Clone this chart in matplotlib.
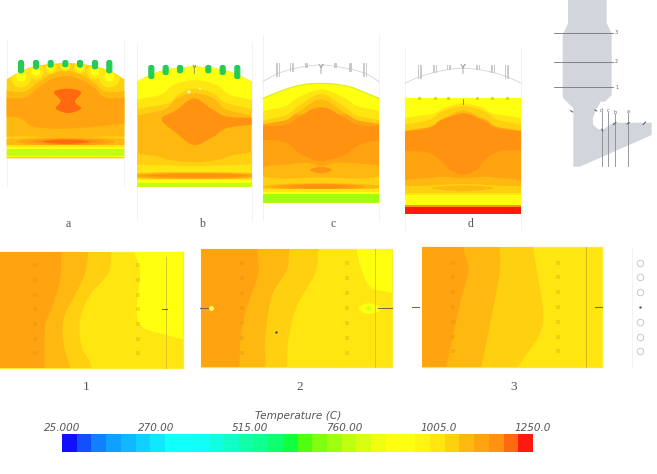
import numpy as np
import matplotlib
matplotlib.use("Agg")
import matplotlib.pyplot as plt
from matplotlib.colors import ListedColormap, BoundaryNorm
from matplotlib.patches import Polygon, FancyBboxPatch, Circle

W, H = 657, 474

# Shared temperature scale
T_MIN, T_MAX = 25.0, 1250.0
T_TICKS = [25.0, 270.0, 515.0, 760.0, 1005.0, 1250.0]
T_TICK_LABELS = ["25.000", "270.00", "515.00", "760.00", "1005.0", "1250.0"]
BAND_COLORS = ["#1010ff", "#1050ff", "#1080ff", "#10a0ff", "#10b8ff", "#10d0ff", "#10e8ff", "#10ffff",
               "#10ffff", "#10fff8", "#10ffe0", "#10ffc8", "#10ffa8", "#10ff90", "#10ff70", "#10ff40",
               "#50ff10", "#80ff10", "#a0ff10", "#c0ff10", "#d8ff10", "#f0ff10", "#ffff10", "#ffff10",
               "#fff510", "#ffe610", "#ffd010", "#ffb810", "#ffa410", "#ff9210", "#ff6a10", "#ff1a10"]

# Vertical sections a-d: dome outline and isotherm regions, (temperature, outline)
# Lengths are section units, three to a pixel, y running downward.
A_DOME = [(20, 148), (60, 125), (100, 110), (150, 102), (197, 99), (245, 102), (290, 110), (335, 125), (373, 148)]
A_BASE, A_BOTTOM = 1039, 385
A_REGIONS = [
    (1078, [(-100, 178), (60, 186), (110, 160), (150, 135), (197, 122), (245, 135), (285, 160), (330, 186), (500, 178),
            (500, 305), (300, 320), (197, 322), (100, 320), (-100, 305)]),
    (1116, [(-100, 195), (60, 205), (110, 175), (150, 150), (197, 138), (245, 150), (285, 175), (330, 205), (500, 195),
            (500, 258), (340, 284), (200, 296), (100, 290), (50, 262), (-100, 255)]),
    (1193, [(162, 186), (200, 176), (243, 186), (225, 215), (243, 236), (205, 249), (168, 236), (182, 212)]),
    (1078, [(-100, 335), (60, 325), (200, 322), (345, 325), (500, 335), (345, 346), (200, 347), (60, 346)]),
    (1116, [(50, 335), (110, 326), (200, 324), (290, 326), (345, 335), (290, 344), (200, 346), (110, 344)]),
    (1154, [(90, 335), (150, 328), (200, 326), (250, 328), (310, 335), (250, 342), (200, 344), (150, 342)]),
    (1193, [(125, 335), (165, 330), (200, 329), (235, 330), (270, 335), (235, 340), (200, 342), (165, 340)]),
]
A_ROWS = [(1001, 346, 350), (925, 350, 358), (771, 358, 378), (925, 378, 381), (1039, 381, 385)]
A_LOBES_X = [63, 108, 152, 196, 240, 285, 328]
A_LOBES_Y = [140, 124, 113, 108, 113, 124, 140]
A_LOBES_OUTER = [32, 24, 18, 16, 18, 24, 32]
A_LOBES_INNER = [15, 13, 11, 10, 11, 13, 15]
A_BURNERS_BOTTOM = [130, 118, 113, 112, 113, 118, 130]
A_BURNER_TOP = 90

B_DOME = [(412, 155), (450, 135), (495, 120), (540, 113), (583, 110), (625, 113), (670, 120), (715, 135), (755, 155)]
B_BASE, B_BOTTOM = 1078, 470
B_REGIONS = [
    (1039, [(250, 250), (470, 245), (530, 205), (583, 190), (640, 205), (700, 245), (900, 252), (900, 20), (250, 20)]),
    (1001, [(250, 232), (480, 225), (540, 190), (583, 176), (640, 190), (700, 225), (900, 238), (900, 20), (250, 20)]),
    (925, [(250, 205), (460, 200), (520, 165), (583, 150), (650, 165), (710, 200), (900, 210), (900, 20), (250, 20)]),
    (1154, [(485, 268), (530, 240), (583, 205), (640, 240), (700, 262), (900, 262), (900, 276), (700, 290), (640, 320), (583, 345), (530, 310)]),
    (1039, [(250, 368), (450, 376), (500, 388), (583, 397), (660, 388), (720, 372), (900, 368), (900, 560), (250, 560)]),
    (1001, [(250, 405), (450, 405), (583, 408), (720, 405), (900, 403), (900, 560), (250, 560)]),
    (1078, [(250, 438), (450, 428), (583, 427), (720, 428), (900, 438), (720, 446), (583, 447), (450, 446)]),
    (1116, [(400, 437), (480, 430), (583, 429), (700, 430), (780, 437), (700, 444), (583, 445), (480, 444)]),
    (1154, [(440, 437), (520, 432), (583, 431), (670, 432), (745, 437), (670, 442), (583, 443), (520, 442)]),
]
B_ROWS = [(1001, 446, 449), (925, 449, 460), (771, 460, 470)]
B_BURNERS_X = [454, 497, 540, 625, 668, 712]
B_BURNERS_BOTTOM = [147, 135, 130, 130, 135, 147]
B_BURNER_TOP = 105

C_DOME = [(24, 205), (60, 190), (110, 172), (150, 163), (198, 160), (245, 163), (290, 172), (335, 190), (372, 205)]
C_BASE, C_BOTTOM = 1078, 518
C_REGIONS = [
    (1116, [(-100, 270), (500, 270), (500, 405), (330, 402), (250, 398), (198, 408), (150, 398), (70, 405), (-100, 410)]),
    (1154, [(-100, 282), (70, 288), (130, 262), (170, 238), (198, 232), (225, 238), (265, 262), (330, 288), (500, 282),
            (500, 330), (340, 335), (270, 375), (225, 388), (198, 394), (170, 388), (130, 368), (70, 332), (-100, 330)]),
    (1154, [(165, 420), (198, 410), (230, 420), (198, 430)]),
    (1039, [(-100, 268), (70, 275), (130, 245), (198, 208), (265, 245), (330, 275), (500, 268), (500, 20), (-100, 20)]),
    (1001, [(-100, 262), (70, 262), (130, 228), (198, 192), (265, 228), (330, 262), (500, 262), (500, 20), (-100, 20)]),
    (925, [(-100, 236), (70, 234), (130, 202), (198, 178), (265, 202), (330, 234), (500, 236), (500, 20), (-100, 20)]),
    (1039, [(-100, 448), (100, 446), (198, 442), (300, 446), (500, 448), (500, 600), (-100, 600)]),
    (1078, [(20, 470), (80, 462), (198, 460), (320, 462), (380, 470), (320, 478), (198, 479), (80, 478)]),
    (1116, [(50, 470), (110, 463), (198, 461), (290, 463), (330, 470), (290, 477), (198, 478), (110, 477)]),
    (1154, [(95, 470), (150, 464), (198, 463), (250, 464), (300, 470), (250, 475), (198, 476), (150, 475)]),
]
C_ROWS = [(1001, 478, 485), (925, 485, 491), (732, 491, 518)]
C_ROOF = [(24, 155), (70, 130), (130, 113), (198, 105), (265, 113), (330, 130), (372, 155)]
C_STRIPES_X = [67, 110, 153, 240, 285, 328]

D_DOME = [(450, 205), (798, 205)]
D_BASE, D_BOTTOM = 1078, 552
D_REGIONS = [
    (1116, [(300, 285), (900, 285), (900, 445), (750, 445), (690, 440), (624, 445), (560, 440), (500, 445), (300, 445)]),
    (1154, [(300, 298), (500, 300), (560, 270), (600, 255), (624, 250), (650, 255), (690, 275), (750, 300), (950, 298),
            (950, 360), (750, 362), (690, 390), (665, 420), (624, 434), (585, 420), (560, 395), (500, 365), (300, 360)]),
    (1039, [(300, 292), (500, 295), (560, 268), (624, 242), (690, 268), (750, 295), (950, 292), (950, 20), (300, 20)]),
    (1001, [(300, 276), (500, 275), (560, 245), (624, 228), (690, 245), (750, 275), (950, 276), (950, 20), (300, 20)]),
    (925, [(300, 255), (510, 255), (570, 232), (624, 220), (680, 232), (740, 255), (950, 255), (950, 20), (300, 20)]),
    (1039, [(300, 476), (500, 468), (624, 462), (750, 468), (950, 476), (950, 600), (300, 600)]),
    (1078, [(530, 474), (624, 466), (720, 474), (624, 484)]),
]
D_ROWS = [(1001, 490, 495), (925, 495, 526), (1154, 526, 531), (1231, 531, 552)]
D_CREST_X = [492, 540, 580, 665, 712, 755]
D_ROOF = [(450, 160), (495, 140), (560, 122), (624, 115), (690, 122), (755, 140), (798, 160)]
D_STRIPES_X = [494, 538, 581, 667, 712, 755]
STRIPE_LENGTHS = [38, 22, 12, 12, 22, 38]

# Horizontal sections 1-3: isotherm boundaries as x positions along y, widest region first
P1_BOX = (-5, 549, 35, 383)
P1_BANDS = [
    (1039, [(345, -50), (335, 35), (325, 100), (270, 165), (240, 240), (245, 320), (275, 383), (285, 500)]),
    (1078, [(270, -50), (265, 35), (255, 100), (225, 165), (190, 240), (192, 320), (210, 383), (215, 500)]),
    (1116, [(190, -50), (185, 35), (180, 120), (155, 205), (135, 260), (133, 383), (133, 500)]),
]
P1_BASE = 1001
P1_YELLOW = [(420, -50), (420, 100), (415, 245), (500, 285), (620, 310), (800, 330), (800, -50)]
P2_BOX = (603, 1175, 28, 382)
P2_BANDS = [
    (1039, [(965, -50), (955, 28), (945, 100), (890, 200), (865, 300), (862, 382), (862, 500)]),
    (1078, [(875, -50), (868, 28), (860, 90), (815, 170), (795, 300), (797, 382), (797, 500)]),
    (1116, [(775, -50), (772, 28), (775, 100), (745, 190), (725, 270), (718, 382), (718, 500)]),
]
P2_BASE = 1001
P2_YELLOW = [(1060, -80), (1070, 28), (1085, 90), (1110, 140), (1160, 155), (1300, 170), (1400, -80)]
P2_HOT = [(1075, 205), (1105, 190), (1150, 205), (1105, 222)]
P3_BOX = (1267, 1805, 22, 380)
P3_BANDS = [
    (1039, [(1600, -50), (1600, 22), (1610, 90), (1630, 220), (1615, 290), (1555, 380), (1500, 500)]),
    (1078, [(1498, -50), (1498, 22), (1500, 90), (1480, 200), (1455, 330), (1445, 380), (1445, 500)]),
    (1116, [(1390, -50), (1390, 22), (1405, 90), (1385, 170), (1365, 260), (1340, 380), (1320, 500)]),
]
P3_BASE = 1001

# Fuel-port rows in the horizontal sections
PORT_Y = {1: [75, 120, 165, 208, 252, 297, 340], 2: [70, 115, 160, 205, 250, 293, 338], 3: [68, 112, 157, 200, 245, 290, 333]}
PORT_X = {1: [105, 415], 2: [725, 1040], 3: [1360, 1673]}
RIGHT_CIRCLES_Y = [68, 112, 157, 245, 290, 333]

# Furnace outline seen from the side
FURNACE = [(114, -10), (230, -10), (230, 70), (245, 100), (245, 285), (225, 305), (212, 305), (198, 330), (188, 355),
           (190, 375), (205, 388), (220, 388), (250, 368), (365, 368), (365, 405), (150, 500), (130, 500), (130, 325),
           (100, 295), (98, 285), (98, 105), (114, 70)]
LEVEL_Y = [98, 185, 262]
LEVEL_NAMES = ["3", "2", "1"]
CUT_X = [215, 235, 255, 295]
CUT_TOP = [335, 335, 342, 340]
CUT_NAMES = ["d", "c", "b", "a"]

SECTION_LABELS = {"a": 68, "b": 202, "c": 333, "d": 471}
LEVEL_LABELS = {"1": 86, "2": 300, "3": 514}

cmap = ListedColormap(BAND_COLORS)
levels = np.linspace(T_MIN, T_MAX, len(BAND_COLORS) + 1)
norm = BoundaryNorm(levels, cmap.N)


def tcol(t):
    return cmap(norm(t))


def spline(points, closed=True, steps=10):
    """Catmull-Rom curve through the given points."""
    pts = np.asarray(points, float)
    if closed:
        p = np.vstack([pts[-1], pts, pts[0], pts[1]])
    else:
        p = np.vstack([pts[0], pts, pts[-1]])
    out = []
    for i in range(1, len(p) - 2):
        for t in np.linspace(0, 1, steps, endpoint=False):
            out.append(0.5 * (2 * p[i] + (p[i + 1] - p[i - 1]) * t
                              + (2 * p[i - 1] - 5 * p[i] + 4 * p[i + 1] - p[i + 2]) * t ** 2
                              + (3 * p[i] - p[i - 1] - 3 * p[i + 1] + p[i + 2]) * t ** 3))
    if not closed:
        out.append(pts[-1])
    return np.array(out)


fig = plt.figure(figsize=(W / 100, H / 100), dpi=100, facecolor="white")


def frame(x0, y0, x1, y1, xlim, ylim):
    ax = fig.add_axes([x0 / W, 1 - y1 / H, (x1 - x0) / W, (y1 - y0) / H])
    ax.set_xlim(*xlim)
    ax.set_ylim(*ylim)
    ax.axis("off")
    return ax


def draw_section(ax, dome, bottom, base, regions, rows, dx=0):
    top = spline(dome, closed=False) if len(dome) > 2 else np.asarray(dome, float)
    left, right = top[0, 0], top[-1, 0]
    outline = np.vstack([top, [(right, bottom), (left, bottom)]]) + [dx, 0]
    clip = Polygon(outline, closed=True, facecolor=tcol(base), edgecolor="none", zorder=1)
    ax.add_patch(clip)
    for temp, verts in regions:
        p = Polygon(spline(verts) + [dx, 0], closed=True, facecolor=tcol(temp), edgecolor="none", zorder=2)
        ax.add_patch(p)
        p.set_clip_path(clip)
    for temp, y0, y1 in rows:
        p = ax.fill_between([left + dx, right + dx], y0, y1, color=tcol(temp), lw=0, zorder=3)
        p.set_clip_path(clip)
    return clip


def draw_stripes(ax, xs, dx, y_top, heights):
    for x, h in zip(xs, heights):
        for off in (-4, 0, 4):
            ax.plot([x + dx + off, x + dx + off], [y_top, y_top + h], color="#c0c0c0", lw=0.6, zorder=5)


def draw_burners(ax, xs, top, bottoms):
    for x, b in zip(xs, bottoms):
        ax.add_patch(FancyBboxPatch((x - 5, top + 4), 10, b - top - 8, boxstyle="round,pad=2.5,rounding_size=6",
                                    facecolor="#22cc55", edgecolor="#22cc55", lw=0.8, zorder=6))


# Vertical sections
top_ax = frame(0, 30, W, 240, (0, 3 * W), (630, 0))
DX_CD = 765

clip_a = draw_section(top_ax, A_DOME, A_BOTTOM, A_BASE, A_REGIONS, A_ROWS)
for x, y, outer, inner in zip(A_LOBES_X, A_LOBES_Y, A_LOBES_OUTER, A_LOBES_INNER):
    for temp, radius in ((1001, outer), (925, inner)):
        c = top_ax.add_patch(Circle((x, y), radius, facecolor=tcol(temp), edgecolor="none", zorder=4))
        c.set_clip_path(clip_a)
draw_burners(top_ax, A_LOBES_X, A_BURNER_TOP, A_BURNERS_BOTTOM)

draw_section(top_ax, B_DOME, B_BOTTOM, B_BASE, B_REGIONS, B_ROWS)
draw_burners(top_ax, B_BURNERS_X, B_BURNER_TOP, B_BURNERS_BOTTOM)
top_ax.plot([579, 583, 587, 583, 583], [106, 114, 106, 114, 130], color="#9a9a50", lw=0.7, zorder=6)
top_ax.scatter([567, 600], [186, 176], s=[5, 2], color="#fff8c0", lw=0, zorder=6)

draw_section(top_ax, C_DOME, C_BOTTOM, C_BASE, C_REGIONS, C_ROWS, dx=DX_CD)
dome_c = spline(C_DOME, closed=False) + [DX_CD, 0]
top_ax.plot(dome_c[:, 0], dome_c[:, 1], color="#d8ef20", lw=0.8, zorder=5)

draw_section(top_ax, D_DOME, D_BOTTOM, D_BASE, D_REGIONS, D_ROWS, dx=DX_CD)
top_ax.scatter(np.array(D_CREST_X) + DX_CD, [203] * len(D_CREST_X), s=5, color="#d8d020", lw=0, zorder=5)
top_ax.plot([624 + DX_CD] * 2, [208, 222], color="#8a7a20", lw=0.6, zorder=6)

for roof in (C_ROOF, D_ROOF):
    pts = spline(roof, closed=False) + [DX_CD, 0]
    top_ax.plot(pts[:, 0], pts[:, 1], color="#d4d4d4", lw=0.6, zorder=5)
draw_stripes(top_ax, C_STRIPES_X, DX_CD, 100, STRIPE_LENGTHS)
draw_stripes(top_ax, D_STRIPES_X, DX_CD, 105, STRIPE_LENGTHS)
for x in (198, 624):
    top_ax.plot([x - 6 + DX_CD, x + DX_CD, x + 6 + DX_CD, x + DX_CD, x + DX_CD], [103, 112, 103, 112, 130],
                color="#a8a8a8", lw=0.7, zorder=5)

# Pale guide lines beside each vertical section
for x, y0, y1 in [(20, 30, 470), (373, 30, 470), (412, 40, 570), (755, 40, 570),
                  (24 + DX_CD, 15, 570), (372 + DX_CD, 15, 570), (450 + DX_CD, 55, 600), (798 + DX_CD, 55, 600)]:
    top_ax.plot([x, x], [y0, y1], color="#f3f3f3", lw=0.7, zorder=0)

# Horizontal sections
low_ax = frame(0, 240, W, 400, (0, 3 * W), (480, 0))


def draw_plan(ax, box, base, bands, extras):
    x0, x1, y0, y1 = box
    rect = Polygon([(x0, y0), (x1, y0), (x1, y1), (x0, y1)], closed=True, facecolor=tcol(base),
                   edgecolor="#ffe830", lw=0.9, zorder=1)
    ax.add_patch(rect)
    for temp, curve in bands:
        pts = spline(curve, closed=False)
        poly = np.vstack([pts, [(-200, 600), (-200, -100)]])
        p = Polygon(poly, closed=True, facecolor=tcol(temp), edgecolor="none", zorder=2)
        ax.add_patch(p)
        p.set_clip_path(rect)
    for temp, verts in extras:
        p = Polygon(spline(verts), closed=True, facecolor=tcol(temp), edgecolor="none", zorder=3)
        ax.add_patch(p)
        p.set_clip_path(rect)


draw_plan(low_ax, P1_BOX, P1_BASE, P1_BANDS, [(925, P1_YELLOW)])
draw_plan(low_ax, P2_BOX, P2_BASE, P2_BANDS, [(925, P2_YELLOW), (925, P2_HOT)])
draw_plan(low_ax, P3_BOX, P3_BASE, P3_BANDS, [])

for key, xs in PORT_X.items():
    for x in xs:
        low_ax.scatter([x] * 7, PORT_Y[key], s=7, marker="s", color="#c89010", alpha=0.25, lw=0, zorder=4)

low_ax.plot([497, 497], [50, 383], color="#d8c020", lw=0.6, zorder=4)
low_ax.plot([1125, 1125], [28, 382], color="#d8c018", lw=0.6, zorder=4)
low_ax.plot([1758, 1758], [22, 380], color="#d0b018", lw=0.6, zorder=4)
for x0, x1, y in [(485, 500, 208), (600, 625, 205), (1135, 1175, 205), (1235, 1258, 200), (1785, 1805, 200)]:
    low_ax.plot([x0, x1], [y, y], color="#707040", lw=0.8, zorder=5)
low_ax.scatter([632], [205], s=12, color="#ffff60", lw=0, zorder=5)
low_ax.scatter([828], [276], s=3, color="#444444", lw=0, zorder=5)
low_ax.scatter([1105], [205], s=10, color="#d0ff20", lw=0, zorder=5)
low_ax.scatter([1920] * len(RIGHT_CIRCLES_Y), RIGHT_CIRCLES_Y, s=22, facecolor="white", edgecolor="#c8c8c8", lw=0.7, zorder=5)
low_ax.scatter([1920], [200], s=3, color="#555555", lw=0, zorder=5)
low_ax.plot([1895, 1895], [20, 380], color="#f3f3f3", lw=0.7, zorder=0)

# Side view of the furnace with section positions
side_ax = frame(530, 0, W, 180, (0, 381), (540, 0))
side_ax.add_patch(Polygon(FURNACE, closed=True, facecolor="#d2d5dc", edgecolor="none", zorder=1))
for y, name in zip(LEVEL_Y, LEVEL_NAMES):
    side_ax.plot([73, 250], [y, y], color="#70747a", lw=0.6, zorder=2)
    side_ax.text(260, y, name, fontsize=3.5, color="#666666", ha="center", va="center", zorder=3)
for x, y0, name in zip(CUT_X, CUT_TOP, CUT_NAMES):
    side_ax.plot([x, x], [y0, 497], color="#858990", lw=0.6, zorder=2)
    side_ax.text(x, y0 - 5, name, fontsize=3.5, color="#666666", ha="center", va="center", zorder=3)
for x0, y0, x1, y1 in [(122, 332, 128, 336), (195, 330, 200, 333), (250, 374, 258, 367), (291, 372, 298, 368),
                       (339, 374, 347, 366), (215, 388, 219, 393)]:
    side_ax.plot([x0, x1], [y0, y1], color="#555555", lw=0.7, zorder=3)

# Colour scale
cb_ax = fig.add_axes([62 / W, 1 - 452 / H, 471 / W, 18 / H])
cb_ax.pcolormesh(levels, [0, 1], levels[:-1][None, :] + 1.0, cmap=cmap, norm=norm)
cb_ax.set_xlim(T_MIN, T_MAX)
cb_ax.set_yticks([])
cb_ax.xaxis.tick_top()
cb_ax.set_xticks(T_TICKS, T_TICK_LABELS, fontsize=7.5, fontstyle="italic", color="#555555")
cb_ax.tick_params(axis="x", length=0, pad=0.5)
for s in cb_ax.spines.values():
    s.set_visible(False)
fig.text(298 / W, 1 - 416 / H, "Temperature (C)", fontsize=7.6, fontstyle="italic", color="#555555", ha="center", va="center")

# Section captions
for name, x in SECTION_LABELS.items():
    fig.text(x / W, 1 - 224 / H, name, fontsize=8.5, family="Liberation Serif", color="#555555", ha="center", va="center")
for name, x in LEVEL_LABELS.items():
    fig.text(x / W, 1 - 387 / H, name, fontsize=9.5, family="Liberation Serif", color="#555555", ha="center", va="center")

fig.savefig("out.png", dpi=100, facecolor="white")
